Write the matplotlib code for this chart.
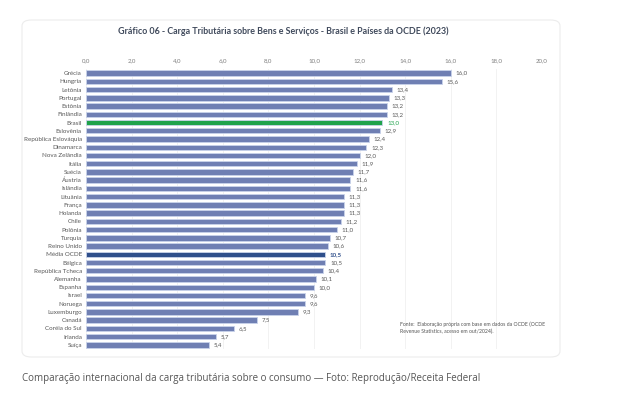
import matplotlib.pyplot as plt
from matplotlib.patches import FancyBboxPatch

# dados do gráfico (carga tributária sobre bens e serviços, % do PIB)
paises = ['Grécia', 'Hungria', 'Letônia', 'Portugal', 'Estônia', 'Finlândia',
          'Brasil', 'Eslovênia', 'República Eslováquia', 'Dinamarca',
          'Nova Zelândia', 'Itália', 'Suécia', 'Áustria', 'Islândia',
          'Lituânia', 'França', 'Holanda', 'Chile', 'Polônia', 'Turquia',
          'Reino Unido', 'Média OCDE', 'Bélgica', 'República Tcheca',
          'Alemanha', 'Espanha', 'Israel', 'Noruega', 'Luxemburgo', 'Canadá',
          'Coréia do Sul', 'Irlanda', 'Suíça']
valores = [16.0, 15.6, 13.4, 13.3, 13.2, 13.2, 13.0, 12.9, 12.4, 12.3,
           12.0, 11.9, 11.7, 11.6, 11.6, 11.3, 11.3, 11.3, 11.2, 11.0,
           10.7, 10.6, 10.5, 10.5, 10.4, 10.1, 10.0, 9.6, 9.6, 9.3,
           7.5, 6.5, 5.7, 5.4]
ticks_x = [0, 2, 4, 6, 8, 10, 12, 14, 16, 18, 20]

AZUL = '#6f7fb3'
VERDE = '#1fa34b'
AZUL_ESC = '#2f4f8b'

plt.rcParams['font.family'] = ['Lato', 'DejaVu Sans']

fig = plt.figure(figsize=(6.24, 3.97), dpi=100)
W, H = 624, 397

# cartão de fundo
card = FancyBboxPatch((22 / W, 1 - 357 / H), 538 / W, 337 / H,
                      boxstyle='round,pad=0,rounding_size=0.015',
                      transform=fig.transFigure, facecolor='white',
                      edgecolor='#ececec', linewidth=0.8, zorder=-5)
fig.patches.append(card)

ax = fig.add_axes([86 / W, 1 - 349 / H, 456 / W, 280 / H])
ax.set_facecolor('none')
ax.set_zorder(2)

cores = []
for p in paises:
    if p == 'Brasil':
        cores.append(VERDE)
    elif p == 'Média OCDE':
        cores.append(AZUL_ESC)
    else:
        cores.append(AZUL)

y = list(range(len(paises)))
ax.barh(y, valores, height=0.66, color=cores, edgecolor='#c9d3ea',
        linewidth=0.6, zorder=3)

for yi, v, p, c in zip(y, valores, paises, cores):
    txt = f'{v:.1f}'.replace('.', ',')
    cor_txt = '#595959'
    peso = 'normal'
    if p == 'Brasil':
        cor_txt = VERDE
    elif p == 'Média OCDE':
        cor_txt = AZUL_ESC
        peso = 'bold'
    ax.text(v + 0.2, yi, txt, va='center', ha='left', fontsize=4.4,
            color=cor_txt, fontweight=peso)

ax.set_ylim(len(paises) - 0.5, -0.5)
ax.set_xlim(0, 20)
ax.set_yticks(y)
ax.set_yticklabels(paises, fontsize=4.5, color='#595959')
ax.set_xticks(ticks_x)
ax.set_xticklabels([f'{t:.1f}'.replace('.', ',') for t in ticks_x],
                   fontsize=4.4, color='#7f7f7f')
ax.xaxis.tick_top()
ax.tick_params(axis='both', length=0, pad=3)
ax.tick_params(axis='x', pad=4)
ax.grid(axis='x', color='#f0f0f0', linewidth=0.6, zorder=0)
for s in ax.spines.values():
    s.set_visible(False)

fig.text(283 / W, 1 - 31 / H,
         'Gráfico 06 - Carga Tributária sobre Bens e Serviços - Brasil e Países da OCDE (2023)',
         ha='center', va='center', fontsize=6.4, fontweight='bold',
         color='#404a5c')

fig.text(400 / W, 1 - 328 / H,
         'Fonte:  Elaboração própria com base em dados da OCDE (OCDE\n'
         'Revenue Statistics, acesso em out/2024).',
         ha='left', va='center', fontsize=3.7, color='#555555',
         linespacing=1.5)

fig.text(22 / W, 1 - 379 / H,
         'Comparação internacional da carga tributária sobre o consumo — Foto: Reprodução/Receita Federal',
         ha='left', va='center', fontsize=7.0, color='#555555',
         family=['Open Sans', 'DejaVu Sans'])

fig.savefig('out.png', dpi=100)
